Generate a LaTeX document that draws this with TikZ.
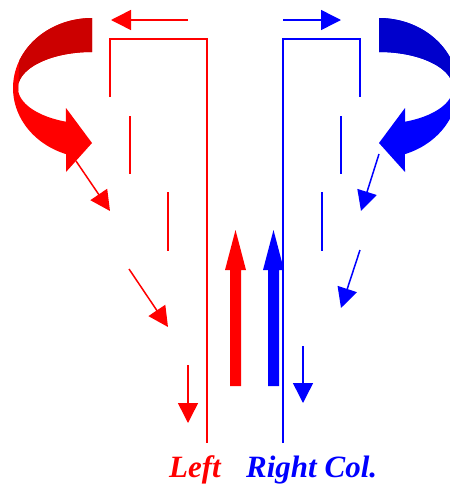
\documentclass[tikz,border=0pt]{standalone}
\usepackage{fontspec}
\setmainfont{Liberation Serif}
\usetikzlibrary{arrows.meta}
\definecolor{rd}{HTML}{FF0000}
\definecolor{drd}{HTML}{CC0000}
\definecolor{bl}{HTML}{0000FF}
\definecolor{dbl}{HTML}{0000CC}
\newcommand\curlshape[2]{%
  \fill[#1] plot[domain=90:250.8,samples=60] ({92+79*cos(\x)},{88-70*sin(\x)})
    -- (66,172) -- (92,143) -- (66,108)
    -- plot[domain=249.4:90,samples=60] ({92+74*cos(\x)},{88-36*sin(\x)}) -- cycle;
  \fill[#2] plot[domain=90:157,samples=40] ({92+79*cos(\x)},{88-70*sin(\x)})
    -- plot[domain=185:90,samples=40] ({92+74*cos(\x)},{88-36*sin(\x)}) -- cycle;
}
\begin{document}
\begin{tikzpicture}[x=1pt,y=-1pt,
  thinarrow/.style={line width=1.5pt,-{Triangle[length=20pt,width=20pt]}},
  wall/.style={line width=1.5pt,line join=miter},
  lab/.style={font=\fontsize{31}{31}\selectfont\bfseries\itshape,anchor=base west,inner sep=0pt}]
\clip (0,0) rectangle (450,485);
\useasboundingbox (0,0) rectangle (450,485);
% curved arrows
\curlshape{rd}{drd}
\begin{scope}[shift={(471,0)},xscale=-1]
  \curlshape{bl}{dbl}
\end{scope}
% coordinates, red side
\coordinate (rt1) at (188,20);  \coordinate (rt2) at (111,20);
\coordinate (rb1) at (110,97);  \coordinate (rb3) at (207,39);  \coordinate (rb4) at (207,443);
\coordinate (rd1a) at (130,116); \coordinate (rd1b) at (130,174);
\coordinate (rd2a) at (168,192); \coordinate (rd2b) at (168,251);
\coordinate (ra1) at (76,161);  \coordinate (ra1e) at (110,211);
\coordinate (ra2) at (129,269); \coordinate (ra2e) at (168,327);
\coordinate (ra3) at (188,365); \coordinate (ra3e) at (188,423);
\coordinate (rbige) at (235.5,230);
% coordinates, blue side
\coordinate (bt1) at (283,20);  \coordinate (bt2) at (341,20);
\coordinate (bb1) at (283,443); \coordinate (bb2) at (283,39); \coordinate (bb3) at (360,39); \coordinate (bb4) at (360,97);
\coordinate (bd1a) at (341,116); \coordinate (bd1b) at (341,174);
\coordinate (bd2a) at (322,192); \coordinate (bd2b) at (322,251);
\coordinate (ba1) at (379,154); \coordinate (ba1e) at (361,211);
\coordinate (ba2) at (360,250); \coordinate (ba2e) at (341,308);
\coordinate (ba3) at (303,346); \coordinate (ba3e) at (303,403);
\coordinate (bbige) at (273.5,230);
% red drawing
\draw[thinarrow,rd] (rt1) -- (rt2);
\draw[wall,rd] (rb1) |- (rb3) -- (rb4);
\draw[wall,rd] (rd1a) -- (rd1b);
\draw[wall,rd] (rd2a) -- (rd2b);
\draw[thinarrow,rd] (ra1) -- (ra1e);
\draw[thinarrow,rd] (ra2) -- (ra2e);
\draw[thinarrow,rd] (ra3) -- (ra3e);
\fill[rd] (rbige) -- ++(10.5,40) -- ++(-5,0) -- ++(0,116) -- ++(-11,0) -- ++(0,-116) -- ++(-5,0) -- cycle;
% blue drawing
\draw[thinarrow,bl] (bt1) -- (bt2);
\draw[wall,bl] (bb1) -- (bb2) -- (bb3) -- (bb4);
\draw[wall,bl] (bd1a) -- (bd1b);
\draw[wall,bl] (bd2a) -- (bd2b);
\draw[thinarrow,bl] (ba1) -- (ba1e);
\draw[thinarrow,bl] (ba2) -- (ba2e);
\draw[thinarrow,bl] (ba3) -- (ba3e);
\fill[bl] (bbige) -- ++(10.5,40) -- ++(-5,0) -- ++(0,116) -- ++(-11,0) -- ++(0,-116) -- ++(-5,0) -- cycle;
% labels
\node[lab,text=rd] (left) at (169,477) {Left};
\node[lab,text=bl] (right) at (246,477) {Right Col.};
\end{tikzpicture}
\end{document}
